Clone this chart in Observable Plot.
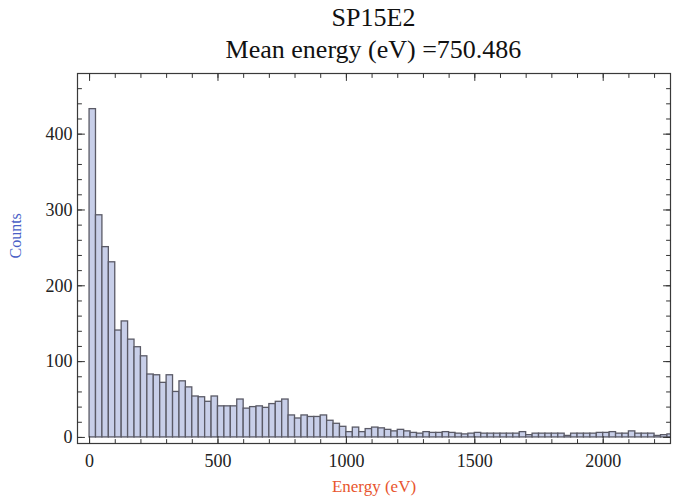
<!DOCTYPE html>
<html><head><meta charset="utf-8">
<script src="https://cdn.jsdelivr.net/npm/d3@7"></script>
<script src="https://cdn.jsdelivr.net/npm/@observablehq/plot@0.6"></script>
<style>
html,body{margin:0;padding:0;background:#fff;}
#title{height:66px;box-sizing:border-box;padding:2px 3px 0 77px;text-align:center;font-family:"Liberation Serif",serif;font-size:26px;line-height:32px;color:#111;}
#chart svg{display:block;}
</style></head><body>
<div id="title"><div id="t1"></div><div id="t2"></div></div>
<div id="chart"></div>
<script>
const titleText = "SP15E2";
const subtitleText = "Mean energy (eV) =750.486";
const xLabel = "Energy (eV)";
const yLabel = "Counts";
const binWidth = 25;
const counts = [433, 293, 251, 231, 141, 153, 129, 119, 107, 83,
  82, 72, 82, 60, 74, 66, 54, 53, 47, 54,
  41, 41, 41, 50, 38, 40, 41, 39, 44, 47,
  50, 29, 25, 29, 27, 27, 29, 22, 18, 14,
  7, 13, 7, 11, 13, 12, 10, 8, 10, 8,
  6, 5, 7, 6, 6, 7, 6, 5, 4, 5,
  6, 5, 5, 5, 5, 5, 5, 7, 3, 5,
  5, 5, 5, 5, 2, 5, 5, 5, 5, 6,
  6, 7, 5, 5, 8, 5, 5, 5, 2, 3, 4];
const xTickLabels = [0, 500, 1000, 1500, 2000];
const yTickLabels = [0, 100, 200, 300, 400];
const xMinorStep = 100;
const yMinorStep = 20;

document.getElementById("t1").textContent = titleText;
document.getElementById("t2").textContent = subtitleText;

const table = counts.map((c, i) => ({x0: i * binWidth, x1: (i + 1) * binWidth, count: c}));
const xDomain = [-47, 2262];
const yDomain = [-8, 480];
const xMinor = d3.range(0, xDomain[1], xMinorStep);
const yMinor = d3.range(0, yDomain[1], yMinorStep);
const xMajor = xMinor.filter(d => d % 500 === 0);
const yMajor = yMinor.filter(d => d % 100 === 0);
const tickShape = {draw(context, l) { context.moveTo(0, 0); context.lineTo(0, -l); }};
const tickColor = "#333";
const frameColor = "#3a3a3a";

function ticks(data, chan, frameAnchor, rotate, length) {
  const o = {frameAnchor, rotate, length, anchor: "start", shape: tickShape, stroke: tickColor, strokeWidth: 1};
  o[chan] = d => d;
  return Plot.vector(data, o);
}

const chart = Plot.plot({
  width: 673,
  height: 432,
  marginTop: 7,
  marginBottom: 55,
  marginLeft: 77,
  marginRight: 3,
  style: {fontFamily: "Liberation Serif, serif", fontSize: "18px", color: "#222", background: "#fff"},
  x: {domain: xDomain},
  y: {domain: yDomain},
  marks: [
    Plot.rectY(table, {x1: "x0", x2: "x1", y: "count", fill: "#c8cfe9", stroke: "#5a5a66", strokeWidth: 1.3, clip: true}),
    Plot.frame({stroke: frameColor, strokeWidth: 1.2}),
    ticks(xMinor, "x", "bottom", 0, 4),
    ticks(xMajor, "x", "bottom", 0, 7),
    ticks(xMinor, "x", "top", 180, 4),
    ticks(xMajor, "x", "top", 180, 7),
    ticks(yMinor, "y", "left", 90, 4),
    ticks(yMajor, "y", "left", 90, 7),
    ticks(yMinor, "y", "right", -90, 4),
    ticks(yMajor, "y", "right", -90, 7),
    Plot.axisX({ticks: xTickLabels, tickFormat: d => String(d), tickSize: 0, tickPadding: 11, label: null, fill: "#222", fontSize: 18}),
    Plot.axisY({ticks: yTickLabels, tickFormat: d => String(d), tickSize: 0, tickPadding: 5, label: null, fill: "#222", fontSize: 18}),
    Plot.text([yLabel], {frameAnchor: "left", dx: -62, rotate: -90, fill: "#4a5fc6", fontSize: 16, text: d => d}),
    Plot.text([xLabel], {frameAnchor: "bottom", dy: 48, fill: "#e8552e", fontSize: 17, text: d => d})
  ]
});
document.getElementById("chart").appendChild(chart);
</script>
</body></html>
